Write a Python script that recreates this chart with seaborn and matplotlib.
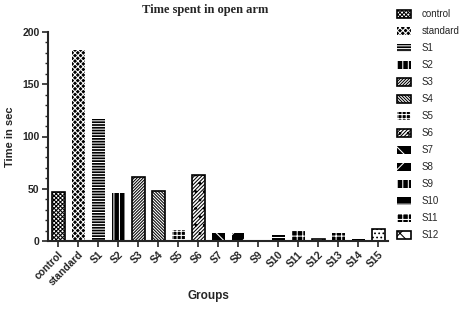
import matplotlib
matplotlib.use("Agg")
import matplotlib.pyplot as plt
import seaborn as sns
from matplotlib.ticker import MultipleLocator

groups = ["control", "standard", "S1", "S2", "S3", "S4", "S5", "S6", "S7", "S8",
          "S9", "S10", "S11", "S12", "S13", "S14", "S15"]
values = [47, 183, 117, 46, 61, 48, 10.5, 63, 8, 8, 0, 5.5, 9.5, 2, 7.5, 2, 11.5]
legend_labels = groups[:2] + ["S%d" % i for i in range(1, 13)]

# style per bar: (face, hatch, hatch colour)
styles = [
    ("white", "x" * 8, "black"),
    ("black", "x" * 6, "white"),
    ("black", "------", "white"),
    ("black", "|||", "white"),
    ("white", "/" * 11, "black"),
    ("white", "\\" * 11, "black"),
    ("black", "++++", "white"),
    ("white", "/" * 9 + "..", "black"),
    ("black", "\\\\", "white"),
    ("black", "//", "white"),
    ("black", "|||", "white"),
    ("black", "--", "white"),
    ("black", "+++", "white"),
    ("white", "xx", "black"),
    ("black", "+++", "white"),
    ("black", "", "white"),
    ("white", "....", "black"),
]

sns.set_style("ticks")
plt.rcParams["font.family"] = ["Liberation Sans", "DejaVu Sans"]
plt.rcParams["hatch.linewidth"] = 0.75

fig = plt.figure(figsize=(4.72, 3.10), dpi=100)
ax = fig.add_axes([48/472, 1-241/310, (388-48)/472, (241-32)/310])

sns.barplot(x=groups, y=values, color="white", edgecolor="black", linewidth=1.2,
            width=0.65, errorbar=None, ax=ax)

for p, (fc, h, hc) in zip(ax.patches, styles):
    p.set_facecolor(fc)
    p.set_hatch(h)
    if fc == "black":
        p.set_edgecolor(hc)
        p.set_linewidth(0)
    else:
        p.set_edgecolor("black")

ax.set_xlim(-0.5, 16.5)
ax.set_ylim(0, 200)
ax.yaxis.set_major_locator(MultipleLocator(50))
ax.yaxis.set_minor_locator(MultipleLocator(10))
sns.despine(ax=ax)
for s in ("left", "bottom"):
    ax.spines[s].set_linewidth(1.5)
ax.tick_params(axis="both", which="major", length=4, width=1.2, direction="out")
ax.tick_params(axis="y", which="minor", length=2.5, width=1.0, direction="out")
ax.tick_params(axis="both", labelsize=7.5, pad=2)
for lab in ax.get_yticklabels():
    lab.set_fontweight("bold")
ax.set_xticks(range(len(groups)))
ax.set_xticklabels(groups, rotation=45, ha="right", rotation_mode="anchor",
                   fontweight="bold", fontsize=7.5)

ax.set_ylabel("Time in sec", fontsize=8, fontweight="bold", labelpad=5)
ax.set_xlabel("")
fig.text(208/472, 1-296/310, "Groups", ha="center", va="center",
         fontsize=8.5, fontweight="bold")
fig.text(205/472, 1-10/310, "Time spent in open arm", ha="center", va="center",
         fontsize=9, fontweight="bold", family=["Liberation Serif", "DejaVu Serif"])

handles = ax.patches[:14]
fig.legend(handles, legend_labels, loc="upper left",
           bbox_to_anchor=(397/472, 1-9/310), frameon=False,
           fontsize=7, handlelength=1.45, handleheight=0.9,
           labelspacing=0.72, handletextpad=1.1, borderpad=0, borderaxespad=0)

fig.savefig("out.png", dpi=100)
